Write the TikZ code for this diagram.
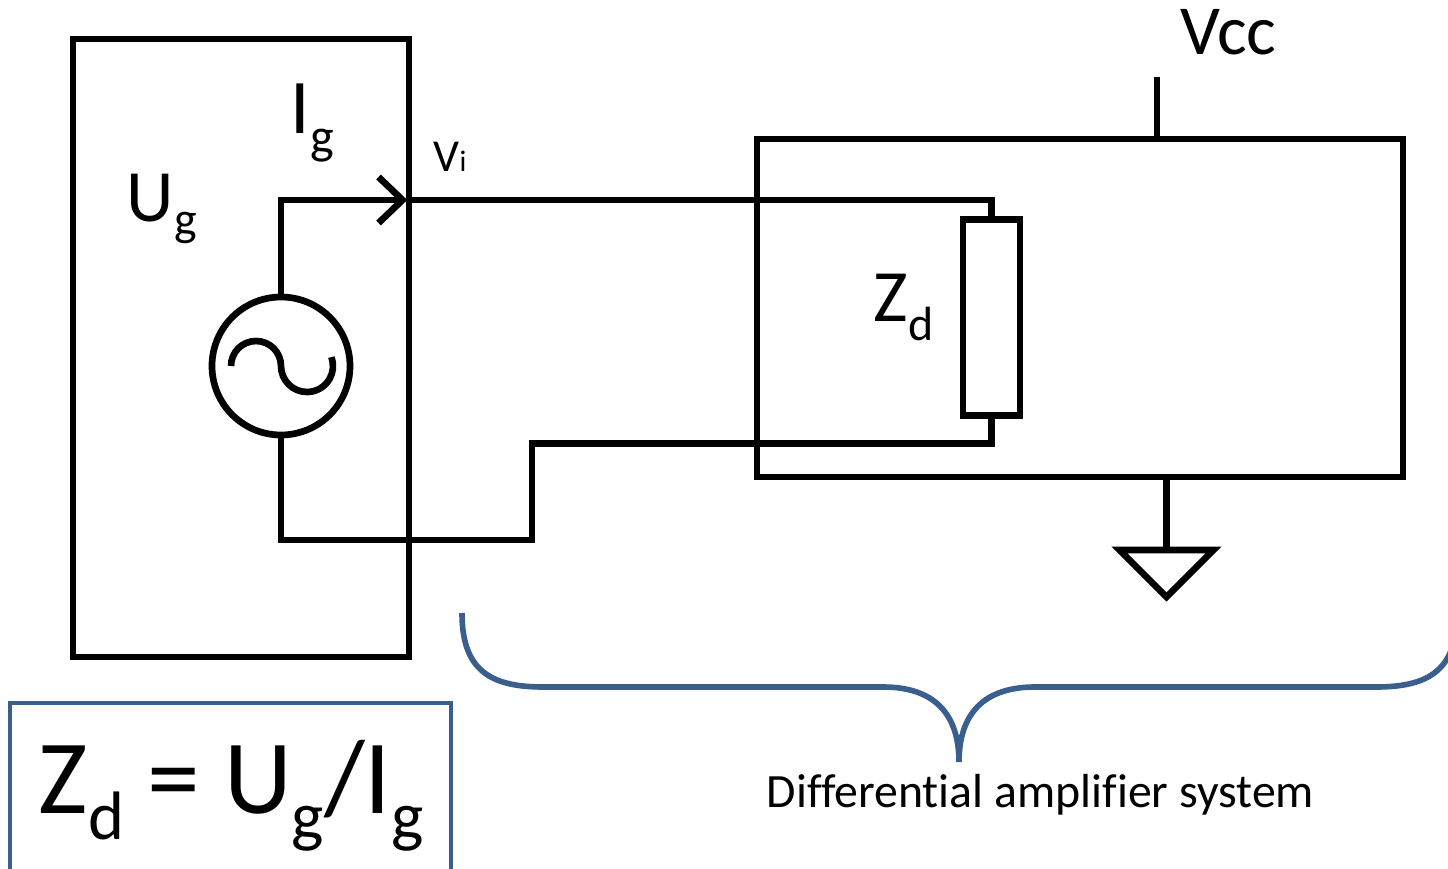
\documentclass[tikz,border=0pt]{standalone}
\usepackage{fontspec}
\setmainfont[Ligatures=NoCommon]{Carlito}
\usepackage{graphicx}
\usetikzlibrary{positioning,arrows.meta}
\definecolor{braceblue}{HTML}{3A5F8E}
\newcommand{\lowsub}[2][-0.25em]{\raisebox{#1}{\scalebox{0.65}{#2}}}
\tikzset{
    block/.style={%
        draw, line width=1.9pt,
        minimum width=#1,
        inner sep=0pt
        },
    block/.default=2cm,
    wire/.style={line width=1.9pt},
    label/.style={%
        font=\fontsize{#1}{#1}\selectfont,
        inner sep=0pt, anchor=base west
        },
    label/.default=20pt,
    bracepath/.style={draw=braceblue, line width=1.6pt},
    >={Straight Barb[length=2.4mm, width=4.6mm]}
}

\begin{document}
\begin{tikzpicture}

\useasboundingbox (0,0) rectangle (14.48,-8.69);

\node[block=3.36cm, minimum height=6.18cm] (Gen) at (2.41,-3.48) {};

\node[block=6.46cm, minimum height=3.38cm] (Amp) at (10.80,-3.08) {};

\node[block, circle, minimum size=1.38cm] (Src) at (2.81,-3.66) {};

\node[block=0.57cm, minimum height=1.96cm] (Zd) at (9.915,-3.175) {};

\draw[wire] ([xshift=-0.50cm]Src.center) arc[start angle=180, end angle=0, radius=0.25cm];
\draw[wire] (Src.center) arc[start angle=180, end angle=380, radius=0.26cm];

\coordinate (Vi) at (Gen.east |- 0,-2.00);
\coordinate (Bot) at (5.32,-5.40);
\coordinate (VccPin) at (11.57,-0.77);
\coordinate (GndPin) at (11.665,-5.50);

\draw[wire, ->, shorten >=0.5mm] (Src.north) |- (Vi);

\draw[wire] (Vi) -| (Zd.north);

\draw[wire] (Src.south) |- (Bot) |- ([yshift=-0.25cm]Zd.south) -- (Zd.south);

\draw[wire] (VccPin) -- (VccPin |- Amp.north);

\draw[wire] (GndPin |- Amp.south) -- (GndPin);
\draw[wire] ([xshift=-0.47cm]GndPin) -- ([xshift=0.47cm]GndPin) -- ([yshift=-0.47cm]GndPin) -- cycle;

\node[label=21pt] (UgText) at (1.26,-2.22) {U\lowsub[-0.18em]{g}};
\node[label=22pt] (IgText) at (2.90,-1.34) {I\lowsub{g}};
\node[label=13pt] (ViText) at (4.33,-1.72) {V\lowsub[0pt]{i}};
\node[label=21pt] (ZdText) at (8.73,-3.22) {Z\lowsub{d}};
\node[label=20pt] (VccText) at (11.80,-0.55) {Vcc};

\draw[bracepath] (4.62,-6.13) .. controls (4.62,-6.70) and (4.90,-6.87) .. (5.43,-6.87)
    -- (8.83,-6.87) .. controls (9.40,-6.87) and (9.59,-7.20) .. (9.59,-7.62)
    .. controls (9.59,-7.20) and (9.78,-6.87) .. (10.35,-6.87)
    -- (13.76,-6.87) .. controls (14.29,-6.87) and (14.57,-6.70) .. (14.57,-6.13);

\node[label=13.6pt] (DiffText) at (7.66,-8.07) {Differential amplifier system};

\draw[draw=braceblue, line width=1.2pt] (0.10,-7.03) rectangle (4.51,-9.00);

\node[label=30pt] (EqText) at (0.38,-8.13) {Z\lowsub{d} = U\lowsub{g}/I\lowsub{g}};

\end{tikzpicture}
\end{document}
